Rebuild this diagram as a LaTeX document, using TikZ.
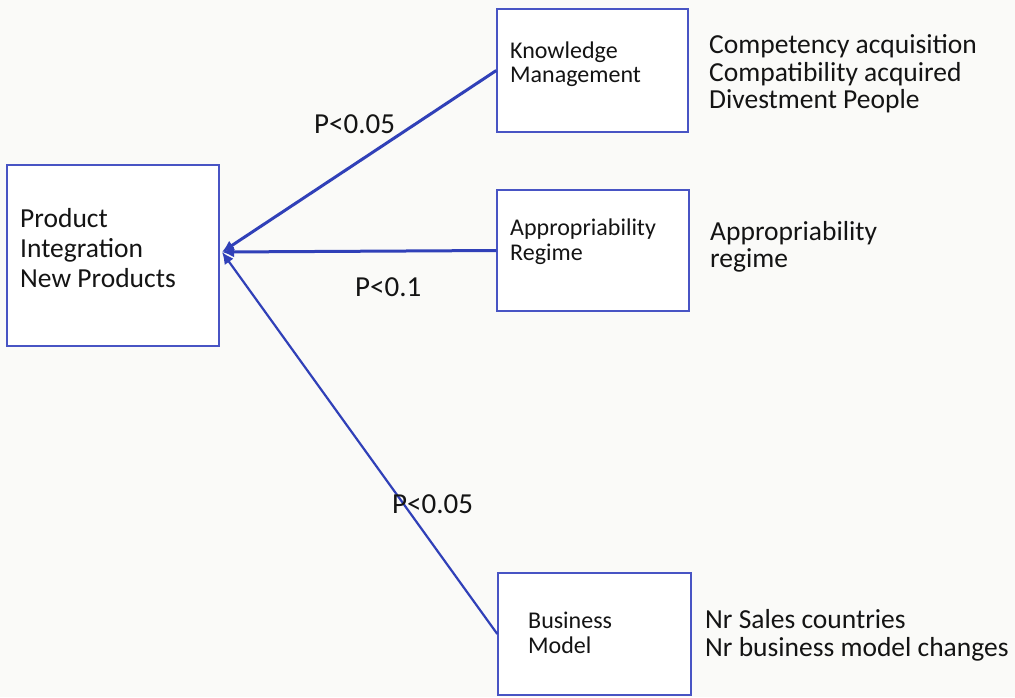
\documentclass[tikz,border=0pt]{standalone}
\usepackage{fontspec}
\setmainfont{Carlito}
\usetikzlibrary{arrows.meta}

\definecolor{paper}{RGB}{250,250,248}
\definecolor{edgeblue}{RGB}{48,64,184}
\definecolor{frameblue}{RGB}{72,84,196}
\definecolor{ink}{RGB}{20,20,20}

\tikzset{
  frame/.style={draw=frameblue, line width=1.4pt, inner sep=0pt, fill=white},
  line/.style={inner sep=0pt, anchor=base west, text=ink},
  maintext/.style={line, font=\fontsize{27.5}{30}\selectfont},
  boxtext/.style={line, font=\fontsize{24}{25}\selectfont},
  sidetext/.style={line, font=\fontsize{27.5}{28}\selectfont},
  plabel/.style={line, font=\fontsize{29}{30}\selectfont},
  link/.style={draw=edgeblue, line width=3pt, -{Latex[length=12pt,width=11pt]}},
  thinlink/.style={link, line width=2.2pt}
}

\begin{document}
\begin{tikzpicture}[x=1pt,y=-1pt]
  \useasboundingbox (0,0) rectangle (1015,697);
  \fill[paper] (0,0) rectangle (1015,697);

  % boxes
  \node[frame, minimum width=212pt, minimum height=181pt] (prod) at (113,255.5) {};
  \node[frame, minimum width=191pt, minimum height=123pt] (km) at (592.5,70.5) {};
  \node[frame, minimum width=192pt, minimum height=121pt] (ar) at (593,250.5) {};
  \node[frame, minimum width=193pt, minimum height=122pt] (bm) at (594.5,634) {};

  % where the three arrows meet
  \coordinate (tip) at (222,252);

  % connectors
  \draw[link] (km.west) -- (tip);
  \draw[link] (ar.west) -- (tip);
  \draw[thinlink] (bm.west) -- (tip);

  % product box text
  \node[maintext] (p1) at (20,227) {Product};
  \node[maintext] (p2) at (20,257) {Integration};
  \node[maintext] (p3) at (20,287) {New Products};

  % knowledge management
  \node[boxtext] (k1) at (510,58) {Knowledge};
  \node[boxtext] (k2) at (510,82) {Management};
  \node[sidetext] (ks1) at (709,53) {Competency acquisition};
  \node[sidetext] (ks2) at (709,81) {Compatibility acquired};
  \node[sidetext] (ks3) at (709,108) {Divestment People};

  % appropriability regime
  \node[boxtext] (a1) at (510,235) {Appropriability};
  \node[boxtext] (a2) at (510,260) {Regime};
  \node[sidetext] (as1) at (710,240) {Appropriability};
  \node[sidetext] (as2) at (710,267) {regime};

  % business model
  \node[boxtext] (b1) at (528,628) {Business};
  \node[boxtext] (b2) at (528,653) {Model};
  \node[sidetext] (bs1) at (705,628) {Nr Sales countries};
  \node[sidetext] (bs2) at (705,656) {Nr business model changes};

  % significance labels
  \node[plabel] (l1) at (314,133) {P<0.05};
  \node[plabel] (l2) at (355,296) {P<0.1};
  \node[plabel] (l3) at (392,513) {P<0.05};
\end{tikzpicture}
\end{document}
